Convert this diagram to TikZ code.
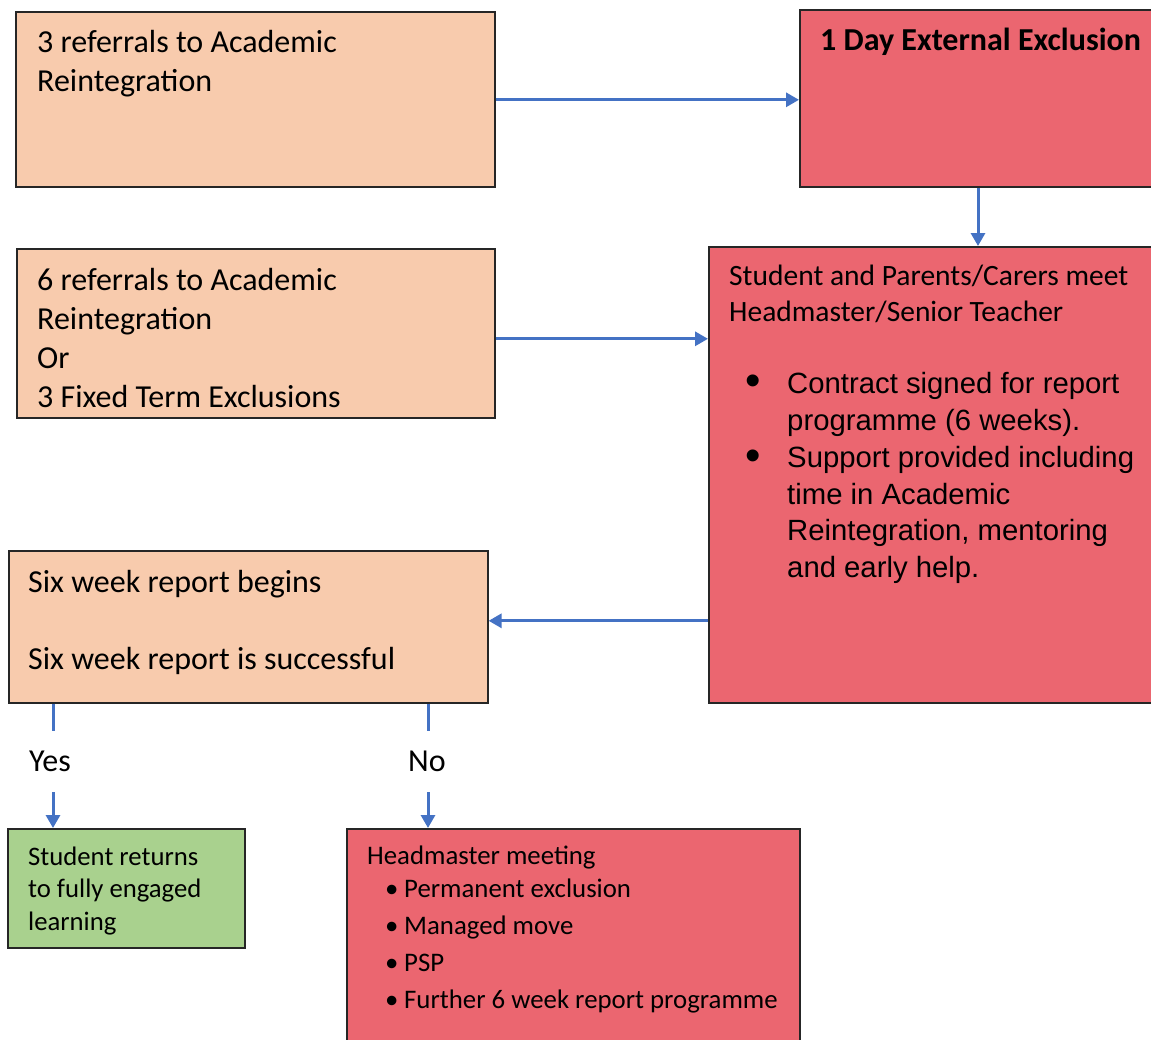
\documentclass[tikz,border=0pt]{standalone}
\usepackage{fontspec}
\setmainfont{Carlito}
\newfontfamily\arialf{Liberation Sans}
\usetikzlibrary{arrows.meta}
\definecolor{peach}{HTML}{F8CBAD}
\definecolor{redbox}{HTML}{EB6670}
\definecolor{greenbox}{HTML}{A9D18E}
\definecolor{arrblue}{HTML}{4472C4}
\newcommand{\gbul}{\makebox[37pt][l]{\hspace*{18pt}•}}
\begin{document}
\begin{tikzpicture}[x=1pt,y=-1pt,
  box/.style={draw=black!85, line width=1.6pt, anchor=north west, inner sep=0pt},
  txt/.style={anchor=base west, inner sep=0pt, align=left, font=\fontsize{32}{39}\selectfont},
  arr/.style={draw=arrblue, line width=3pt, -{Triangle[length=13pt,width=14pt]}},
  ln/.style={draw=arrblue, line width=3pt}]
\useasboundingbox (0,0) rectangle (1151,1039);
\clip (0,0) rectangle (1151,1039);
\fill[white] (0,0) rectangle (1151,1039);
% boxes
\node[box, fill=peach, minimum width=479pt, minimum height=175pt] (a) at (15,11) {};
\node[box, fill=redbox, minimum width=370pt, minimum height=177pt] (b) at (799,9) {};
\node[box, fill=peach, minimum width=478pt, minimum height=169pt] (d) at (16,248) {};
\node[box, fill=redbox, minimum width=460pt, minimum height=456pt] (c) at (708,246) {};
\node[box, fill=peach, minimum width=479pt, minimum height=152pt] (e) at (8,550) {};
\node[box, fill=greenbox, minimum width=237pt, minimum height=119pt] (f) at (7,828) {};
\node[box, fill=redbox, minimum width=453pt, minimum height=230pt] (g) at (346,828) {};
% texts (anchored at baseline of last line)
\node[txt] (ta) at (37,91) {3 referrals to Academic\\Reintegration};
\node[txt, font=\fontsize{32}{39}\bfseries] (tb) at (820,50) {1 Day External Exclusion};
\node[txt] (td) at (37,407) {6 referrals to Academic\\Reintegration\\Or\\3 Fixed Term Exclusions};
\node[txt, font=\fontsize{29.5}{36}\selectfont] (tc) at (729,321) {Student and Parents/Carers meet\\Headmaster/Senior Teacher};
\node[txt, font=\fontsize{29.3}{36.5}\arialf] (tc1) at (787,430) {Contract signed for report\\programme (6 weeks).};
\node[txt, font=\fontsize{29.3}{36.5}\arialf] (tc2) at (787,577) {Support provided including\\time in Academic\\Reintegration, mentoring\\and early help.};
\node[anchor=center, inner sep=0pt, font=\fontsize{44}{44}\arialf] (bc1) at (753,385.5) {•};
\node[anchor=center, inner sep=0pt, font=\fontsize{44}{44}\arialf] (bc2) at (753,460.5) {•};
\node[txt, font=\fontsize{32}{38.75}\selectfont] (te) at (28,669.5) {Six week report begins\\[38.75pt]Six week report is successful};
\node[txt, font=\fontsize{26.7}{32.5}\selectfont] (tf) at (28,930) {Student returns\\to fully engaged\\learning};
\node[txt, font=\fontsize{26.8}{36.7}\selectfont] (tg) at (367,1008) {Headmaster meeting\\[-3.7pt]\gbul Permanent exclusion\\\gbul Managed move\\\gbul PSP\\\gbul Further 6 week report programme};
% yes / no labels
\node[inner sep=0pt, minimum height=61pt, font=\fontsize{32}{39}\selectfont] (yes) at (50,761.5) {Yes};
\node[inner sep=0pt, minimum height=61pt, font=\fontsize{32}{39}\selectfont] (no) at (427,761.5) {No};
% connectors
\draw[arr] ([yshift=-0.5pt]a.east) -- ([yshift=-0.5pt]a.east -| b.west);
\draw[arr] (b.south -| 978,0) -- (c.north -| 978,0);
\draw[arr] ([yshift=-5.5pt]d.east) -- ([yshift=-5.5pt]d.east -| c.west);
\draw[arr] ([yshift=6pt]e.east -| c.west) -- ([yshift=6pt]e.east);
\draw[ln] ([xshift=3pt]yes.north |- e.south) -- ([xshift=3pt]yes.north);
\draw[arr] ([xshift=3pt]yes.south) -- ([xshift=3pt]yes.south |- f.north);
\draw[ln] ([xshift=1pt]no.north |- e.south) -- ([xshift=1pt]no.north);
\draw[arr] ([xshift=1pt]no.south) -- ([xshift=1pt]no.south |- g.north);
\end{tikzpicture}
\end{document}
